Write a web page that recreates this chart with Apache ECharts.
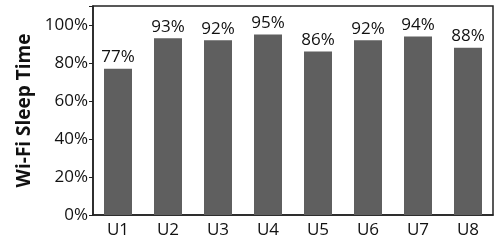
<!DOCTYPE html>
<html><head><meta charset="utf-8">
<script src="https://cdn.jsdelivr.net/npm/echarts@6/dist/echarts.min.js"></script>
<style>html,body{margin:0;padding:0;background:#fff}#c{width:495px;height:241px}</style>
</head><body><div id="c"></div>
<script>
const categories = ['U1','U2','U3','U4','U5','U6','U7','U8'];
const values = [77, 93, 92, 95, 86, 92, 94, 88];
const yTicks = [0, 20, 40, 60, 80, 100];
const chart = echarts.init(document.getElementById('c'), null, {renderer:'canvas'});
const font = '"Open Sans", "Noto Sans", sans-serif';
chart.setOption({
  animation:false,
  grid:{left:93, right:2, top:6, bottom:26, show:true, borderColor:'#222', borderWidth:1.5},
  xAxis:{type:'category', data:categories,
    axisLine:{lineStyle:{color:'#222', width:1.5}}, axisTick:{show:false},
    axisLabel:{color:'#111', fontSize:17, fontFamily:font, margin:7}},
  yAxis:{type:'value', min:0, max:110, interval:20,
    name:'Wi-Fi Sleep Time', nameLocation:'middle', nameGap:56,
    nameTextStyle:{fontSize:19, fontWeight:'bold', color:'#111', fontFamily:font},
    axisLine:{show:true, lineStyle:{color:'#222', width:1.5}},
    axisTick:{show:true, inside:false, length:4, lineStyle:{color:'#222'}},
    splitLine:{show:false},
    axisLabel:{color:'#111', fontSize:17, fontFamily:font, margin:5,
      formatter:v => yTicks.includes(v) ? v + '%' : ''}},
  series:[{type:'bar', data:values, barWidth:'56%',
    itemStyle:{color:'#5f5f5f'},
    label:{show:true, position:'top', distance:3, formatter:'{c}%', fontSize:17, color:'#111', fontFamily:font}}]
});
</script></body></html>
